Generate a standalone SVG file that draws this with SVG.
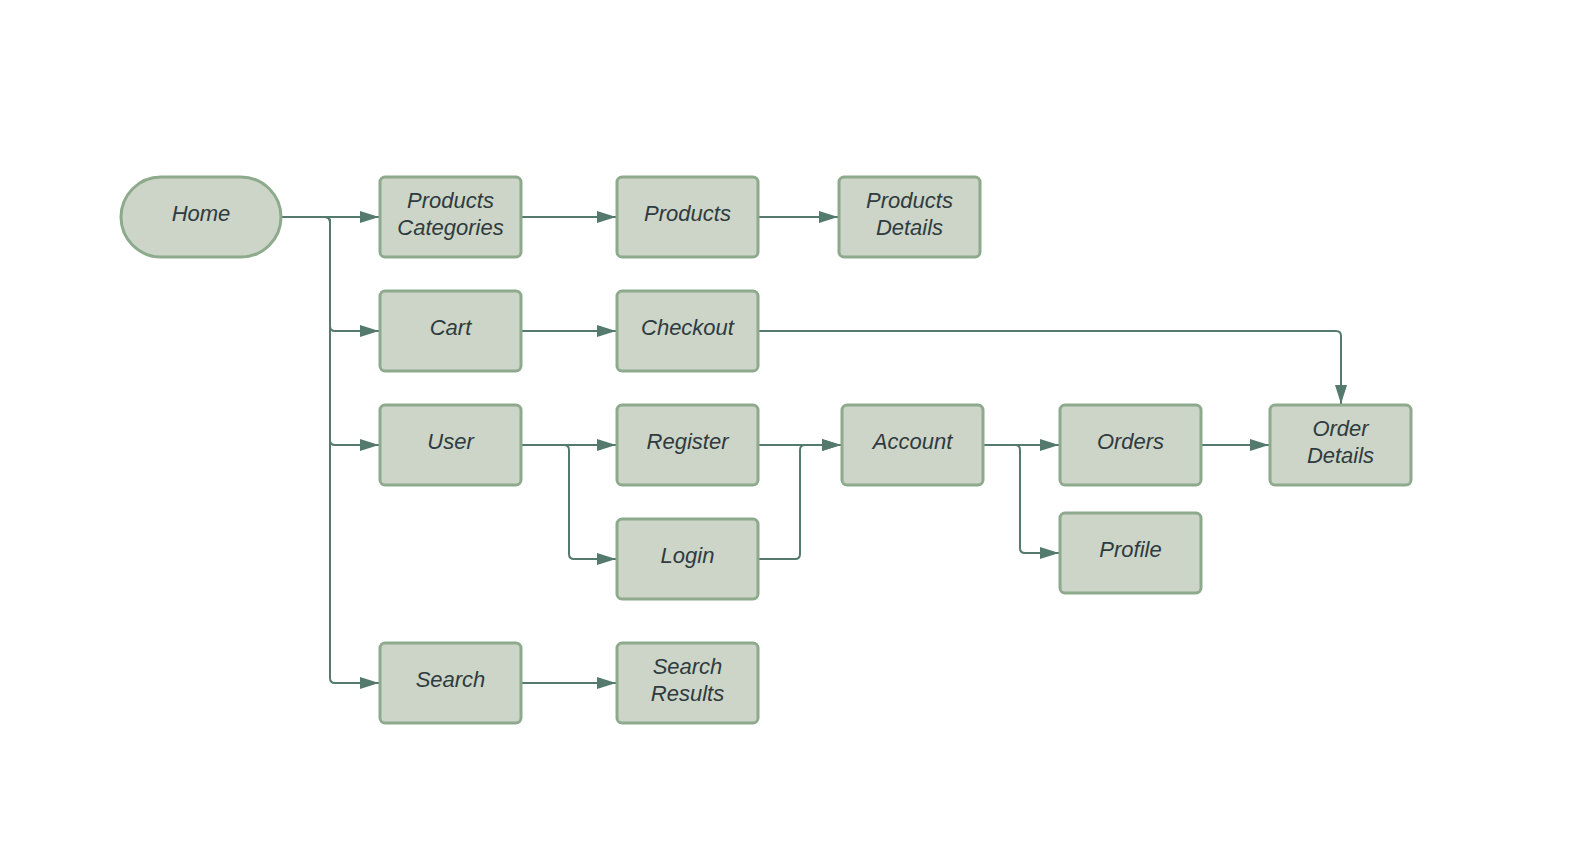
<svg xmlns="http://www.w3.org/2000/svg" width="1571" height="841" viewBox="0 0 1571 841">
<style>
.n{fill:#ccd5c7;stroke:#8daa8d;stroke-width:3}
.t{font-family:"Liberation Sans",Arial,sans-serif;font-style:italic;font-size:22px;fill:#2f3b40;text-anchor:middle}
.c{fill:none;stroke:#547a6d;stroke-width:2;marker-end:url(#a)}
</style>
<defs>
<marker id="a" markerUnits="userSpaceOnUse" markerWidth="19" markerHeight="12" refX="19" refY="6" orient="auto">
<path d="M0,0 L19,6 L0,12 z" fill="#547a6d"/>
</marker>
</defs>
<rect width="1571" height="841" fill="#ffffff"/>
<g id="connectors">
<path class="c" d="M281,217 H379"/>
<path class="c" d="M281,217 H325 Q330,217 330,222 V326 Q330,331 335,331 H379"/>
<path class="c" d="M281,217 H325 Q330,217 330,222 V440 Q330,445 335,445 H379"/>
<path class="c" d="M281,217 H325 Q330,217 330,222 V678 Q330,683 335,683 H379"/>
<path class="c" d="M522,217 H616"/>
<path class="c" d="M758,217 H838"/>
<path class="c" d="M522,331 H616"/>
<path class="c" d="M758,331 H1336 Q1341,331 1341,336 V404"/>
<path class="c" d="M522,445 H616"/>
<path class="c" d="M522,445 H564 Q569,445 569,450 V554 Q569,559 574,559 H616"/>
<path class="c" d="M758,445 H841"/>
<path class="c" d="M758,559 H795 Q800,559 800,554 V450 Q800,445 805,445 H841"/>
<path class="c" d="M983,445 H1059"/>
<path class="c" d="M983,445 H1015 Q1020,445 1020,450 V548 Q1020,553 1025,553 H1059"/>
<path class="c" d="M1201,445 H1269"/>
<path class="c" d="M522,683 H616"/>
</g>
<g id="home"><rect class="n" x="121" y="177" width="160" height="80" rx="40"/><text class="t" x="201" y="221">Home</text></g>
<g id="products-categories"><rect class="n" x="380" y="177" width="141" height="80" rx="5"/><text class="t" x="450.5" y="208">Products</text><text class="t" x="450.5" y="235">Categories</text></g>
<g id="products"><rect class="n" x="617" y="177" width="141" height="80" rx="5"/><text class="t" x="687.5" y="221">Products</text></g>
<g id="products-details"><rect class="n" x="839" y="177" width="141" height="80" rx="5"/><text class="t" x="909.5" y="208">Products</text><text class="t" x="909.5" y="235">Details</text></g>
<g id="cart"><rect class="n" x="380" y="291" width="141" height="80" rx="5"/><text class="t" x="450.5" y="335">Cart</text></g>
<g id="checkout"><rect class="n" x="617" y="291" width="141" height="80" rx="5"/><text class="t" x="687.5" y="335">Checkout</text></g>
<g id="user"><rect class="n" x="380" y="405" width="141" height="80" rx="5"/><text class="t" x="450.5" y="449">User</text></g>
<g id="register"><rect class="n" x="617" y="405" width="141" height="80" rx="5"/><text class="t" x="687.5" y="449">Register</text></g>
<g id="login"><rect class="n" x="617" y="519" width="141" height="80" rx="5"/><text class="t" x="687.5" y="563">Login</text></g>
<g id="account"><rect class="n" x="842" y="405" width="141" height="80" rx="5"/><text class="t" x="912.5" y="449">Account</text></g>
<g id="orders"><rect class="n" x="1060" y="405" width="141" height="80" rx="5"/><text class="t" x="1130.5" y="449">Orders</text></g>
<g id="order-details"><rect class="n" x="1270" y="405" width="141" height="80" rx="5"/><text class="t" x="1340.5" y="436">Order</text><text class="t" x="1340.5" y="463">Details</text></g>
<g id="profile"><rect class="n" x="1060" y="513" width="141" height="80" rx="5"/><text class="t" x="1130.5" y="557">Profile</text></g>
<g id="search"><rect class="n" x="380" y="643" width="141" height="80" rx="5"/><text class="t" x="450.5" y="687">Search</text></g>
<g id="search-results"><rect class="n" x="617" y="643" width="141" height="80" rx="5"/><text class="t" x="687.5" y="674">Search</text><text class="t" x="687.5" y="701">Results</text></g>
</svg>
